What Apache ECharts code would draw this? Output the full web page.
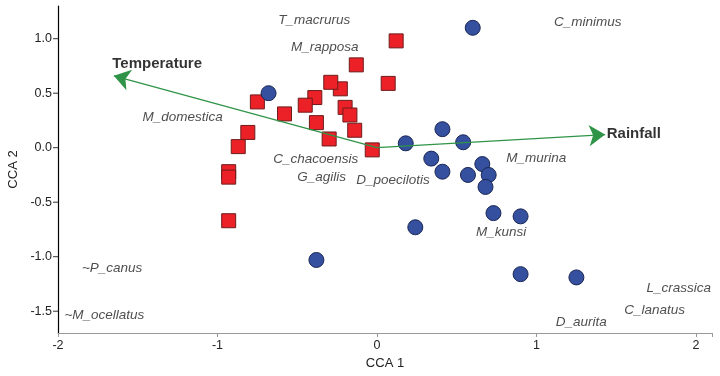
<!DOCTYPE html>
<html>
<head>
<meta charset="utf-8">
<script src="https://cdn.jsdelivr.net/npm/echarts@6/dist/echarts.min.js"></script>
<style>
  html, body { margin: 0; padding: 0; background: #fff; }
  #chart-container { width: 720px; height: 376px; }
</style>
</head>
<body>
<div id="chart-container"></div>
<script>
// sites, group 1 (squares)
let squarePoints = [
    [0.12, 0.98], [-0.13, 0.76], [-0.23, 0.54], [-0.29, 0.60], [0.07, 0.59],
    [-0.75, 0.42], [-0.39, 0.46], [-0.45, 0.39], [-0.58, 0.31], [-0.20, 0.37],
    [-0.17, 0.30], [-0.38, 0.23], [-0.14, 0.16], [-0.30, 0.08], [-0.81, 0.14],
    [-0.87, 0.01], [-0.03, -0.02], [-0.93, -0.22], [-0.93, -0.27], [-0.93, -0.67],
];
// sites, group 2 (circles)
let circlePoints = [
    [0.60, 1.10], [-0.68, 0.50], [0.41, 0.17], [0.18, 0.04], [0.54, 0.05],
    [0.34, -0.10], [0.41, -0.22], [0.57, -0.25], [0.66, -0.15], [0.70, -0.25],
    [0.68, -0.36], [0.73, -0.60], [0.90, -0.63], [0.24, -0.73], [-0.38, -1.03],
    [0.90, -1.16], [1.25, -1.19],
];
// species scores (label anchors)
let speciesNames = [
    "T_macrurus", "M_rapposa", "M_domestica", "C_chacoensis", "G_agilis",
    "D_poecilotis", "C_minimus", "M_murina", "M_kunsi", "L_crassica",
    "C_lanatus", "D_aurita", "~P_canus", "~M_ocellatus",
];
let speciesX = [-0.62, -0.54, -1.47, -0.65, -0.50, -0.13, 1.11, 0.81, 0.62, 1.69, 1.55, 1.12, -1.85, -1.96];
let speciesY = [1.17, 0.92, 0.28, -0.11, -0.27, -0.30, 1.15, -0.10, -0.78, -1.29, -1.49, -1.60, -1.11, -1.54];
// environmental vectors
let vectorNames = ["Temperature", "Rainfall"];
let vectorTips = [[-1.65, 0.66], [1.43, 0.12]];
let vectorLabelPos = [[-1.66, 0.77], [1.44, 0.125]];

let xTicks = [-2, -1, 0, 1, 2];
let yTicks = [-1.5, -1.0, -0.5, 0.0, 0.5, 1.0];

let dom = document.getElementById("chart-container");
let myChart = echarts.init(dom, null, { renderer: "canvas" });

let font = "'Liberation Sans', Arial, Helvetica, sans-serif";

let option = {
    animation: false,
    grid: { left: 58, right: 8, top: 6, bottom: 43, containLabel: false, outerBoundsMode: "none" },
    xAxis: {
        type: "value",
        min: -2,
        max: 2.1,
        interval: 1,
        name: "CCA 1",
        nameLocation: "middle",
        nameGap: 16,
        nameTextStyle: { fontFamily: font, fontSize: 13, color: "#222" },
        axisLine: { onZero: false, lineStyle: { color: "#999", width: 1.2 } },
        axisTick: { length: 4, lineStyle: { color: "#999" } },
        axisLabel: {
            margin: 6,
            fontFamily: font,
            fontSize: 12.5,
            color: "#222",
            formatter: function (v) {
                return xTicks.indexOf(Math.round(v * 1000) / 1000) >= 0 ? String(v) : "";
            },
        },
        splitLine: { show: false },
    },
    yAxis: {
        type: "value",
        min: -1.7,
        max: 1.3,
        interval: 0.1,
        name: "CCA 2",
        nameLocation: "middle",
        nameGap: 35,
        nameTextStyle: { fontFamily: font, fontSize: 13, color: "#222" },
        axisLine: { onZero: false, lineStyle: { color: "#000", width: 1.2 } },
        axisTick: { show: false },
        axisLabel: {
            margin: 0,
            fontFamily: font,
            fontSize: 12.5,
            color: "#222",
            formatter: function (v) {
                let r = Math.round(v * 10) / 10;
                if (yTicks.indexOf(r) < 0) return "";
                return "{v|" + r.toFixed(1) + "}{t|}";
            },
            rich: {
                v: { fontFamily: font, fontSize: 12.5, color: "#222", padding: [0, 1, 0, 0] },
                t: { width: 5, height: 1, backgroundColor: "#333" },
            },
        },
        splitLine: { show: false },
    },
    series: [
        {
            type: "scatter",
            data: squarePoints,
            symbol: "rect",
            symbolSize: 14,
            itemStyle: { color: "#ec2027", borderColor: "#6e1c1c", borderWidth: 1, opacity: 1 },
            z: 2,
        },
        {
            type: "scatter",
            data: circlePoints,
            symbol: "circle",
            symbolSize: 15,
            itemStyle: { color: "#34509f", borderColor: "#1a2654", borderWidth: 1, opacity: 1 },
            z: 3,
        },
        {
            type: "lines",
            coordinateSystem: "cartesian2d",
            polyline: false,
            symbol: ["none", "arrow"],
            symbolSize: [12, 16],
            lineStyle: { color: "#2f9447", width: 1.3, opacity: 1, curveness: 0 },
            data: vectorTips.map(function (tip) {
                return { coords: [[0, 0], tip] };
            }),
            z: 4,
        },
        {
            type: "scatter",
            symbolSize: 0,
            silent: true,
            data: speciesNames.map(function (n, i) {
                return { name: n, value: [speciesX[i], speciesY[i]] };
            }),
            label: {
                show: true,
                position: "right",
                distance: 0,
                formatter: "{b}",
                fontFamily: font,
                fontStyle: "italic",
                fontSize: 13.5,
                color: "#222",
            },
            z: 5,
        },
        {
            type: "scatter",
            symbolSize: 0,
            silent: true,
            data: vectorNames.map(function (n, i) {
                return { name: n, value: vectorLabelPos[i] };
            }),
            label: {
                show: true,
                position: "right",
                distance: 0,
                formatter: "{b}",
                fontFamily: font,
                fontWeight: "bold",
                fontSize: 15,
                color: "#000",
            },
            z: 5,
        },
    ],
};

myChart.setOption(option);
window.addEventListener("resize", myChart.resize);
</script>
</body>
</html>
